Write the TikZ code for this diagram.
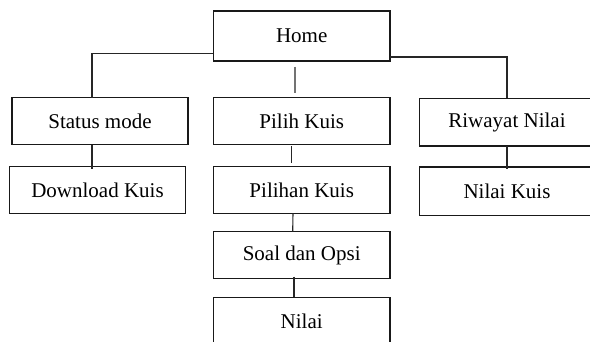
\documentclass[tikz,border=0pt]{standalone}
\usepackage{fontspec}
\setmainfont{Liberation Serif}
\begin{document}
\begin{tikzpicture}[x=1pt,y=-1pt,
  box/.style={draw=black!90,line width=1.2pt,inner sep=0pt,outer sep=0pt,
    font=\fontsize{21}{24}\selectfont,text=black},
  midbox/.style={box,minimum width=176.7pt},
  sidebox/.style={box,minimum width=175pt},
  link/.style={draw=black!85,line width=1.1pt}]
\useasboundingbox (0,0) rectangle (590,341);
\clip (0,0) rectangle (590,341);
\node[midbox,minimum height=50pt] (home) at (301.7,36) {Home};
\node[sidebox,minimum width=176pt,minimum height=47pt] (status) at (100,121.3) {Status mode};
\node[midbox,minimum height=46.6pt] (pilih) at (301.7,121) {Pilih Kuis};
\node[sidebox,minimum height=47.7pt] (riwayat) at (507,122.2) {Riwayat Nilai};
\node[sidebox,minimum width=176.4pt,minimum height=46.6pt] (download) at (97.5,190) {Download Kuis};
\node[midbox,minimum height=46.6pt] (pilihan) at (301.7,190) {Pilihan Kuis};
\node[sidebox,minimum height=48.5pt] (nilaikuis) at (507,191.2) {Nilai Kuis};
\node[midbox,minimum height=46.6pt] (soal) at (301.7,255) {Soal dan Opsi};
\node[midbox,minimum height=47.4pt] (nilai) at (301.7,321) {Nilai};
\draw[link] ([yshift=-17.3pt]home.west) -| ([xshift=-8pt]status.north);
\draw[link] ([yshift=-21pt]home.east) -| (riwayat.north);
\draw[draw=black!55,line width=1.4pt] ([xshift=-6.7pt,yshift=-5.7pt]home.south) -- ([xshift=-6.7pt,yshift=4.4pt]pilih.north);
\draw[link] ([xshift=-8pt]status.south) -- ([xshift=-5.5pt,yshift=-2.3pt]download.north);
\draw[link] (riwayat.south) -- ([yshift=-2.5pt]nilaikuis.north);
\draw[link] ([xshift=-10pt,yshift=-1.7pt]pilih.south) -- ([xshift=-10pt,yshift=4pt]pilihan.north);
\draw[link] ([xshift=-8.7pt]pilihan.south) -- ([xshift=-9pt]soal.north);
\draw[link] ([xshift=-7.7pt,yshift=1.6pt]soal.south) -- ([xshift=-7.7pt]nilai.north);
\end{tikzpicture}
\end{document}
